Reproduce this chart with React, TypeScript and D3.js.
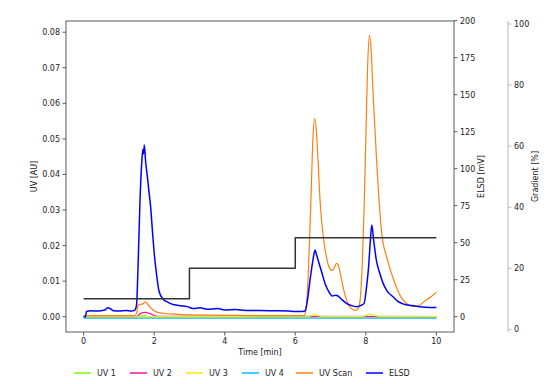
import React from "react";
import * as d3 from "d3";

const W = 554;
const H = 384;
const M = { left: 66, right: 454, top: 21, bottom: 332 };

// Tick labels
const xTicks = [0, 2, 4, 6, 8, 10];
const uvTicks = [0, 0.01, 0.02, 0.03, 0.04, 0.05, 0.06, 0.07, 0.08];
const elsdTicks = [0, 25, 50, 75, 100, 125, 150, 175, 200];
const gradTicks = [0, 20, 40, 60, 80, 100];

// ELSD [mV]
const elsdT = [0, 0.05, 0.08, 0.2, 0.4, 0.6, 0.68, 0.75, 0.85, 1.0, 1.2, 1.35, 1.45, 1.5, 1.55, 1.6, 1.65, 1.68, 1.7, 1.72, 1.76, 1.8, 1.85, 1.9, 1.95, 2.0, 2.07, 2.14, 2.25, 2.37, 2.5, 2.7, 2.94, 3.1, 3.3, 3.5, 3.8, 4.0, 4.3, 4.6, 5.0, 5.4, 5.8, 6.0, 6.2, 6.28, 6.35, 6.42, 6.5, 6.56, 6.6, 6.65, 6.75, 6.85, 6.95, 7.05, 7.15, 7.21, 7.3, 7.45, 7.6, 7.74, 7.85, 7.95, 8.02, 8.08, 8.13, 8.17, 8.22, 8.3, 8.4, 8.49, 8.6, 8.77, 8.9, 9.06, 9.3, 9.6, 9.8, 10];
const elsdV = [0, 0, 3.5, 4, 3.8, 4.5, 6, 5.5, 4, 3.8, 4.2, 3.8, 4.5, 8, 40, 80, 105, 113, 110, 116, 104, 96, 85, 74, 58, 43, 28, 17, 12, 10, 8.5, 7.5, 6.8, 5.5, 6, 5, 5.5, 4.5, 4.8, 4.2, 4.2, 4, 3.8, 3.5, 3.5, 4, 12, 25, 38, 45, 42, 38, 30, 22, 17, 14, 14.5, 14, 12, 9, 7.5, 6.8, 7.5, 9, 20, 34, 52, 62, 52, 38, 29, 22.5, 17.5, 13.5, 10.5, 8.6, 7.5, 6.5, 6.3, 6.3];

// UV Scan [AU]
const scanT = [0, 1.45, 1.5, 1.55, 1.62, 1.68, 1.75, 1.82, 1.9, 2.0, 2.1, 2.3, 2.6, 3, 4, 5, 6, 6.25, 6.3, 6.35, 6.4, 6.45, 6.5, 6.55, 6.6, 6.65, 6.7, 6.8, 6.9, 7.0, 7.05, 7.1, 7.17, 7.22, 7.3, 7.4, 7.5, 7.6, 7.7, 7.8, 7.85, 7.9, 7.95, 8.0, 8.05, 8.1, 8.15, 8.2, 8.3, 8.45, 8.6, 8.75, 8.9, 9.0, 9.15, 9.3, 9.45, 9.7, 9.85, 10];
const scanV = [0.0003, 0.0003, 0.001, 0.0033, 0.0035, 0.0036, 0.0042, 0.0035, 0.0025, 0.0017, 0.0012, 0.0009, 0.0007, 0.0005, 0.0004, 0.0003, 0.0003, 0.0003, 0.002, 0.008, 0.02, 0.035, 0.05, 0.0558, 0.052, 0.043, 0.033, 0.022, 0.016, 0.0132, 0.013, 0.0137, 0.015, 0.0145, 0.011, 0.0065, 0.0035, 0.0022, 0.0018, 0.0025, 0.006, 0.015, 0.03, 0.05, 0.07, 0.0792, 0.075, 0.064, 0.045, 0.0235, 0.0165, 0.0115, 0.0075, 0.0055, 0.0038, 0.003, 0.003, 0.0046, 0.0056, 0.0069];

// UV 1..4 [AU]
const uv1T = [0, 1.5, 1.7, 1.9, 10];
const uv1V = [0, 0, 0.0003, 0, 0];
const uv2T = [0, 1.5, 1.6, 1.75, 1.9, 2.1, 10];
const uv2V = [0, 0, 0.0008, 0.0012, 0.0008, 0.0001, 0];
const uv3T = [0, 6.35, 6.55, 6.8, 7.9, 8.1, 8.35, 10];
const uv3V = [0, 0, 0.0005, 0, 0, 0.0007, 0.0001, 0];
const uv4T = [0, 10];
const uv4V = [-0.0004, -0.0004];

// Gradient [%]
const gradT = [0, 3, 3, 6, 6, 10];
const gradV = [10, 10, 20, 20, 30, 30];

const legendNames = ["UV 1", "UV 2", "UV 3", "UV 4", "UV Scan", "ELSD"];
const legendColors = ["#7cfc00", "#ff1493", "#ffe600", "#00bfff", "#ff7f0e", "#0000ff"];

const zip = (t: number[], v: number[]) => t.map((x, i) => [x, v[i]] as [number, number]);

export default function App() {
  const x = d3.scaleLinear().domain([-0.5, 10.5]).range([M.left, M.right]);
  const yUV = d3.scaleLinear().domain([0, 0.08]).range([316.7, 32.2]);
  const yE = d3.scaleLinear().domain([0, 200]).range([316.7, 20.7]);
  const yG = d3.scaleLinear().domain([0, 100]).range([329.3, 24]);

  const lineUV = d3.line<[number, number]>().x(d => x(d[0])).y(d => yUV(d[1])).curve(d3.curveMonotoneX);
  const lineE = d3.line<[number, number]>().x(d => x(d[0])).y(d => yE(d[1])).curve(d3.curveMonotoneX);
  const lineG = d3.line<[number, number]>().x(d => x(d[0])).y(d => yG(d[1]));

  const font = "DejaVu Sans, sans-serif";
  const fs = 8;
  const axisCol = "#333";
  const gCol = "#aaa";

  const legendX = [74, 130, 186, 242, 296, 366];

  return (
    <svg width={W} height={H} style={{ position: "absolute", left: 0, top: 0, background: "#fff" }} fontFamily={font}>
      <defs>
        <clipPath id="plot">
          <rect x={M.left} y={M.top} width={M.right - M.left} height={M.bottom - M.top} />
        </clipPath>
      </defs>
      <g clipPath="url(#plot)" fill="none" strokeLinejoin="round">
        <path d={lineUV(zip(uv1T, uv1V)) || ""} stroke={legendColors[0]} strokeWidth={1.2} />
        <path d={lineUV(zip(uv2T, uv2V)) || ""} stroke={legendColors[1]} strokeWidth={1.2} />
        <path d={lineUV(zip(uv3T, uv3V)) || ""} stroke={legendColors[2]} strokeWidth={1.2} />
        <path d={lineUV(zip(uv4T, uv4V)) || ""} stroke={legendColors[3]} strokeWidth={1.2} />
        <path d={lineUV(zip(scanT, scanV)) || ""} stroke={legendColors[4]} strokeWidth={1.2} />
        <path d={lineE(zip(elsdT, elsdV)) || ""} stroke={legendColors[5]} strokeWidth={1.5} />
        <path d={lineG(zip(gradT, gradV)) || ""} stroke="#333" strokeWidth={1.5} />
      </g>
      {/* frame */}
      <rect x={M.left} y={M.top} width={M.right - M.left} height={M.bottom - M.top} fill="none" stroke={axisCol} strokeWidth={0.8} />
      {/* x ticks */}
      {xTicks.map(t => (
        <g key={"x" + t}>
          <line x1={x(t)} x2={x(t)} y1={M.bottom} y2={M.bottom + 3.5} stroke={axisCol} strokeWidth={0.8} />
          <text x={x(t)} y={M.bottom + 12} fontSize={fs} textAnchor="middle" fill="#222">{t}</text>
        </g>
      ))}
      <text x={(M.left + M.right) / 2} y={355} fontSize={fs} textAnchor="middle" fill="#222">Time [min]</text>
      {/* left UV axis */}
      {uvTicks.map(t => (
        <g key={"u" + t}>
          <line x1={M.left - 3.5} x2={M.left} y1={yUV(t)} y2={yUV(t)} stroke={axisCol} strokeWidth={0.8} />
          <text x={M.left - 6} y={yUV(t) + 3} fontSize={fs} textAnchor="end" fill="#222">{t.toFixed(2)}</text>
        </g>
      ))}
      <text transform={`translate(37,${(M.top + M.bottom) / 2}) rotate(-90)`} fontSize={fs} textAnchor="middle" fill="#222">UV [AU]</text>
      {/* right ELSD axis */}
      {elsdTicks.map(t => (
        <g key={"e" + t}>
          <line x1={M.right} x2={M.right + 3.5} y1={yE(t)} y2={yE(t)} stroke={axisCol} strokeWidth={0.8} />
          <text x={M.right + 6} y={yE(t) + 3} fontSize={fs} textAnchor="start" fill="#222">{t}</text>
        </g>
      ))}
      <text transform={`translate(484,${(M.top + M.bottom) / 2}) rotate(-90)`} fontSize={fs} textAnchor="middle" fill="#222">ELSD [mV]</text>
      {/* gradient axis */}
      <line x1={508} x2={508} y1={M.top} y2={M.bottom} stroke={gCol} strokeWidth={0.8} />
      {gradTicks.map(t => (
        <g key={"g" + t}>
          <line x1={508} x2={511.5} y1={yG(t)} y2={yG(t)} stroke={gCol} strokeWidth={0.8} />
          <text x={514} y={yG(t) + 3} fontSize={fs} textAnchor="start" fill="#222">{t}</text>
        </g>
      ))}
      <text transform={`translate(538,${(M.top + M.bottom) / 2}) rotate(-90)`} fontSize={fs} textAnchor="middle" fill="#222">Gradient [%]</text>
      {/* legend */}
      {legendNames.map((n, i) => (
        <g key={n}>
          <line x1={legendX[i]} x2={legendX[i] + 17} y1={373} y2={373} stroke={legendColors[i]} strokeWidth={1.5} />
          <text x={legendX[i] + 23} y={376} fontSize={fs} fill="#222">{n}</text>
        </g>
      ))}
    </svg>
  );
}
